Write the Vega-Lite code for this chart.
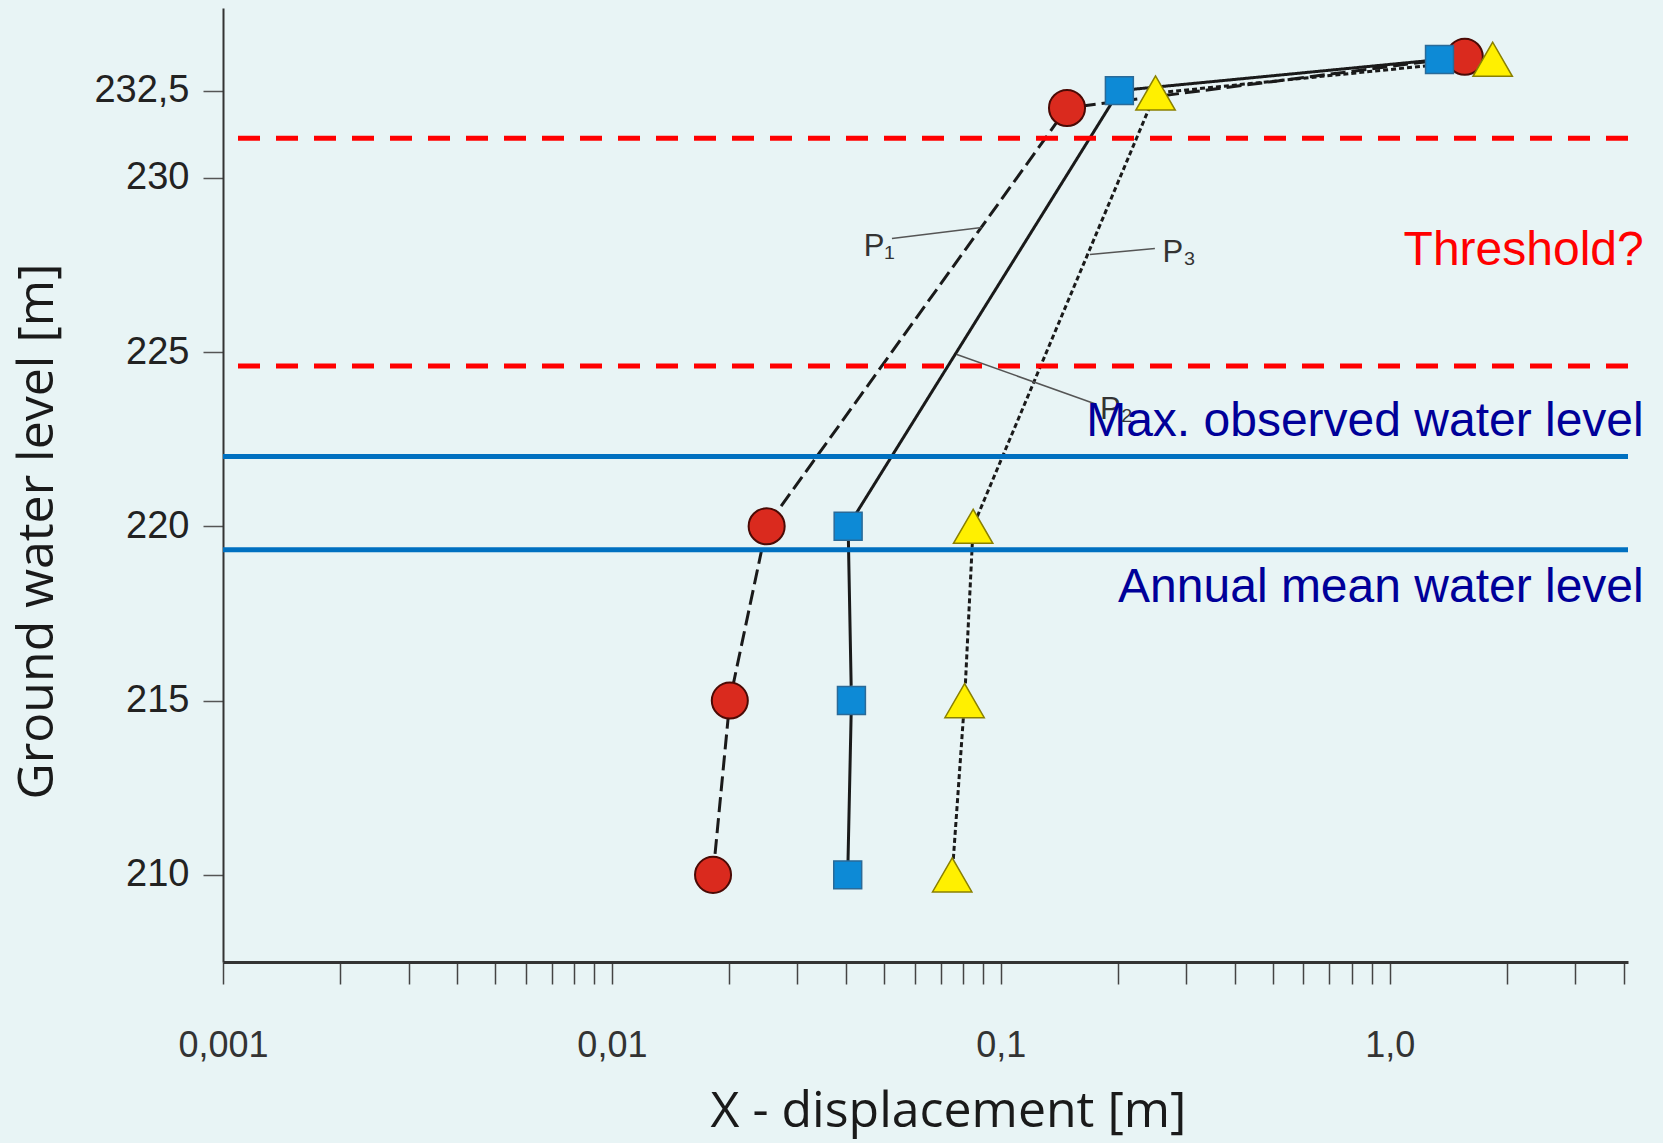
{
  "$schema": "https://vega.github.io/schema/vega-lite/v6.json",
  "autosize": "none",
  "width": 1405,
  "height": 954,
  "padding": {"left": 223, "top": 8, "right": 35, "bottom": 181},
  "background": "#E8F4F5",
  "config": {
    "view": {"stroke": null},
    "font": "Liberation Sans"
  },
  "datasets": {
    "series": [
      {"series": "P1", "x": 0.0182, "y": 210},
      {"series": "P1", "x": 0.0201, "y": 215},
      {"series": "P1", "x": 0.0250, "y": 220},
      {"series": "P1", "x": 0.148, "y": 232.0},
      {"series": "P1", "x": 1.56, "y": 233.47},
      {"series": "P2", "x": 0.0404, "y": 210},
      {"series": "P2", "x": 0.0413, "y": 215},
      {"series": "P2", "x": 0.0405, "y": 220},
      {"series": "P2", "x": 0.2018, "y": 232.5},
      {"series": "P2", "x": 1.343, "y": 233.39},
      {"series": "P3", "x": 0.0750, "y": 210},
      {"series": "P3", "x": 0.0807, "y": 215},
      {"series": "P3", "x": 0.0849, "y": 220},
      {"series": "P3", "x": 0.250, "y": 232.43},
      {"series": "P3", "x": 1.84, "y": 233.4}
    ],
    "thresholds": [{"y": 231.13}, {"y": 224.6}],
    "levels": [{"y": 222.0}, {"y": 219.33}],
    "leaders": [
      {"x": 0.0525, "y": 228.26, "x2": 0.0893, "y2": 228.57},
      {"x": 0.1695, "y": 227.8, "x2": 0.249, "y2": 227.97},
      {"x": 0.0771, "y": 224.93, "x2": 0.176, "y2": 223.5}
    ],
    "plabelsRight": [{"x": 0.0534, "y": 228.0, "label": "P₁"}],
    "plabelsLeft": [
      {"x": 0.2606, "y": 227.85, "label": "P₃"},
      {"x": 0.180, "y": 223.35, "label": "P₂"}
    ],
    "redText": [{"x": 4.5, "y": 227.89, "label": "Threshold?"}],
    "blueText": [
      {"x": 4.5, "y": 222.99, "label": "Max. observed water level"},
      {"x": 4.5, "y": 218.23, "label": "Annual mean water level"}
    ]
  },
  "layer": [
    {
      "data": {"name": "series"},
      "mark": {"type": "line", "color": "#1a1a1a", "strokeWidth": 3},
      "encoding": {
        "x": {
          "field": "x", "type": "quantitative",
          "scale": {"type": "log", "domain": [0.001, 4.1], "nice": false},
          "axis": {
            "title": "X - displacement [m]",
            "titleFont": "Open Sans", "titleFontSize": 50, "titleFontWeight": "normal", "titleColor": "#1a1a1a",
            "titleX": 725, "titleY": 149, "titleBaseline": "middle", "titleAlign": "center",
            "values": [0.001,0.002,0.003,0.004,0.005,0.006,0.007,0.008,0.009,0.01,0.02,0.03,0.04,0.05,0.06,0.07,0.08,0.09,0.1,0.2,0.3,0.4,0.5,0.6,0.7,0.8,0.9,1,2,3,4],
            "labelExpr": "datum.value == 0.001 ? '0,001' : datum.value == 0.01 ? '0,01' : datum.value == 0.1 ? '0,1' : datum.value == 1 ? '1,0' : ''",
            "labelFontSize": 36, "labelColor": "#333333", "labelPadding": 44, "labelFlush": false, "labelOverlap": false,
            "tickSize": 22, "tickColor": "#444444", "tickWidth": 1.5,
            "domainColor": "#333333", "domainWidth": 3, "grid": false
          }
        },
        "y": {
          "field": "y", "type": "quantitative",
          "scale": {"domain": [207.5, 234.87], "nice": false, "zero": false},
          "axis": {
            "title": "Ground water level [m]",
            "titleFont": "Open Sans", "titleFontSize": 50, "titleFontWeight": "normal", "titleColor": "#1a1a1a",
            "titleX": -186, "titleY": 523, "titleAngle": -90, "titleBaseline": "middle", "titleAlign": "center",
            "values": [210, 215, 220, 225, 230, 232.5],
            "labelExpr": "datum.value == 232.5 ? '232,5' : format(datum.value, 'd')",
            "labelFontSize": 38, "labelColor": "#222222", "labelPadding": 14,
            "tickSize": 20, "tickColor": "#555555", "tickWidth": 1.5,
            "domainColor": "#333333", "domainWidth": 2, "grid": false
          }
        },
        "detail": {"field": "series", "type": "nominal"},
        "order": {"field": "y", "type": "quantitative"},
        "strokeDash": {
          "field": "series", "type": "nominal",
          "scale": {"domain": ["P1", "P2", "P3"], "range": [[15, 6], [1, 0], [5, 3]]},
          "legend": null
        }
      }
    },
    {
      "data": {"name": "leaders"},
      "mark": {"type": "rule", "color": "#555555", "strokeWidth": 1.5},
      "encoding": {
        "x": {"field": "x", "type": "quantitative"},
        "x2": {"field": "x2"},
        "y": {"field": "y", "type": "quantitative"},
        "y2": {"field": "y2"}
      }
    },
    {
      "data": {"name": "series"},
      "transform": [{"filter": "datum.series == 'P1'"}],
      "mark": {"type": "point", "shape": "circle", "filled": true, "opacity": 1, "size": 1300, "fill": "#DA2A1E", "stroke": "#4A0A05", "strokeWidth": 2},
      "encoding": {
        "x": {"field": "x", "type": "quantitative"},
        "y": {"field": "y", "type": "quantitative"}
      }
    },
    {
      "data": {"name": "series"},
      "transform": [{"filter": "datum.series == 'P2'"}],
      "mark": {"type": "point", "shape": "square", "filled": true, "opacity": 1, "size": 780, "fill": "#0D8AD6", "stroke": "#2A6A98", "strokeWidth": 1.5},
      "encoding": {
        "x": {"field": "x", "type": "quantitative"},
        "y": {"field": "y", "type": "quantitative"}
      }
    },
    {
      "data": {"name": "series"},
      "transform": [{"filter": "datum.series == 'P3'"}],
      "mark": {"type": "point", "shape": "triangle-up", "filled": true, "opacity": 1, "size": 1550, "fill": "#FFF000", "stroke": "#8A8000", "strokeWidth": 1.5},
      "encoding": {
        "x": {"field": "x", "type": "quantitative"},
        "y": {"field": "y", "type": "quantitative"}
      }
    },
    {
      "data": {"name": "thresholds"},
      "mark": {"type": "rule", "color": "#FF0000", "strokeWidth": 5, "strokeDash": [22, 16]},
      "encoding": {"y": {"field": "y", "type": "quantitative"}}
    },
    {
      "data": {"name": "levels"},
      "mark": {"type": "rule", "color": "#0070C0", "strokeWidth": 5},
      "encoding": {"y": {"field": "y", "type": "quantitative"}}
    },
    {
      "data": {"name": "plabelsRight"},
      "mark": {"type": "text", "align": "right", "baseline": "middle", "fontSize": 31, "color": "#333333"},
      "encoding": {
        "x": {"field": "x", "type": "quantitative"},
        "y": {"field": "y", "type": "quantitative"},
        "text": {"field": "label"}
      }
    },
    {
      "data": {"name": "plabelsLeft"},
      "mark": {"type": "text", "align": "left", "baseline": "middle", "fontSize": 31, "color": "#333333"},
      "encoding": {
        "x": {"field": "x", "type": "quantitative"},
        "y": {"field": "y", "type": "quantitative"},
        "text": {"field": "label"}
      }
    },
    {
      "data": {"name": "redText"},
      "mark": {"type": "text", "align": "right", "baseline": "middle", "fontSize": 48, "color": "#FF0000"},
      "encoding": {
        "x": {"field": "x", "type": "quantitative"},
        "y": {"field": "y", "type": "quantitative"},
        "text": {"field": "label"}
      }
    },
    {
      "data": {"name": "blueText"},
      "mark": {"type": "text", "align": "right", "baseline": "middle", "fontSize": 48, "color": "#000099"},
      "encoding": {
        "x": {"field": "x", "type": "quantitative"},
        "y": {"field": "y", "type": "quantitative"},
        "text": {"field": "label"}
      }
    }
  ]
}
